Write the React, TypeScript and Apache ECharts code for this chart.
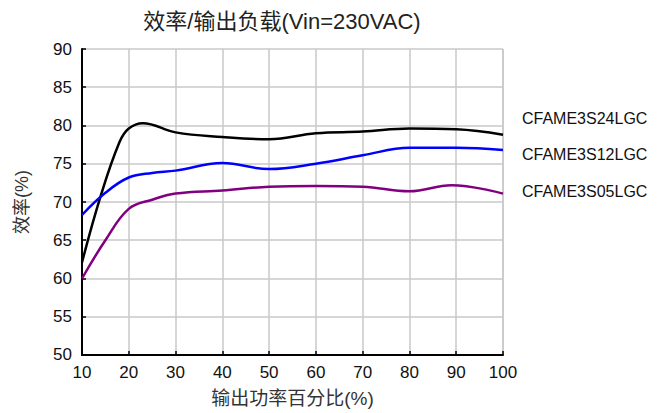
import React, { useEffect, useRef } from "react";
import * as echarts from "echarts";

const titleText = "效率/输出负载(Vin=230VAC)";
const xName = "输出功率百分比(%)";
const yName = "效率(%)";
const seriesNames = ["CFAME3S24LGC", "CFAME3S12LGC", "CFAME3S05LGC"];
const seriesColors = ["#000000", "#0000ff", "#800080"];

const s24: [number, number][] = [
  [10, 62.1], [14, 70.8], [18, 77.8], [20, 79.6], [23, 80.3], [30, 79.1],
  [40, 78.5], [50, 78.2], [60, 79.0], [70, 79.2], [80, 79.6], [90, 79.5], [100, 78.8],
];
const s12: [number, number][] = [
  [10, 68.3], [15, 71.2], [20, 73.2], [25, 73.8], [30, 74.1], [40, 75.1],
  [50, 74.3], [60, 75.0], [70, 76.1], [80, 77.1], [90, 77.1], [100, 76.8],
];
const s05: [number, number][] = [
  [10, 60.0], [15, 65.0], [20, 69.1], [25, 70.3], [30, 71.1], [40, 71.5],
  [50, 72.0], [60, 72.1], [70, 72.0], [80, 71.4], [89, 72.2], [100, 71.1],
];
const allData = [s24, s12, s05];

const font = "Arial, 'Liberation Sans', 'Noto Sans CJK SC', sans-serif";

export default function App() {
  const ref = useRef<HTMLDivElement>(null);
  useEffect(() => {
    if (!ref.current) return;
    const chart = echarts.init(ref.current, null, { renderer: "svg" });
    chart.setOption({
      animation: false,
      backgroundColor: "#ffffff",
      title: {
        text: titleText,
        left: 277,
        textAlign: "center",
        top: 5,
        textStyle: { fontSize: 22, fontWeight: "normal", color: "#222", fontFamily: font },
      },
      legend: {
        orient: "vertical",
        left: 512,
        top: 105,
        icon: "none",
        itemWidth: 0,
        itemHeight: 16,
        itemGap: 20.7,
        data: seriesNames,
        textStyle: { fontSize: 16, lineHeight: 16, color: "#111", fontFamily: font },
      },
      grid: { left: 82, right: 164, top: 49, bottom: 57, containLabel: false },
      xAxis: {
        type: "value",
        min: 10,
        max: 100,
        interval: 10,
        name: xName,
        nameLocation: "middle",
        nameGap: 34,
        nameTextStyle: { fontSize: 19, color: "#333", fontFamily: font },
        axisLine: { show: true, lineStyle: { color: "#000", width: 2 } },
        axisTick: { show: true, inside: true, length: 4, lineStyle: { color: "#000", width: 1.5 } },
        axisLabel: { fontSize: 17, color: "#111", margin: 9, fontFamily: font },
        splitLine: { show: true, lineStyle: { color: "#c8c8c8", width: 1.5 } },
      },
      yAxis: {
        type: "value",
        min: 50,
        max: 90,
        interval: 5,
        name: yName,
        nameLocation: "middle",
        nameGap: 51,
        nameRotate: 90,
        nameTextStyle: { fontSize: 18, color: "#333", fontFamily: font },
        axisLine: { show: true, lineStyle: { color: "#000", width: 2 } },
        axisTick: { show: true, inside: true, length: 4, lineStyle: { color: "#000", width: 1.5 } },
        axisLabel: { fontSize: 17, color: "#111", margin: 10, fontFamily: font },
        splitLine: { show: true, lineStyle: { color: "#c8c8c8", width: 1.5 } },
      },
      series: allData.map((d, i) => ({
        name: seriesNames[i],
        type: "line",
        data: d,
        smooth: 0.4,
        showSymbol: false,
        symbol: "none",
        color: seriesColors[i],
        lineStyle: { color: seriesColors[i], width: 2.5 },
      })),
      graphic: [
        {
          type: "line",
          shape: { x1: 503, y1: 49, x2: 503, y2: 356 },
          style: { stroke: "#c8c8c8", lineWidth: 1.5 },
          silent: true,
        },
      ],
    });
    return () => chart.dispose();
  }, []);
  return (
    <div
      ref={ref}
      style={{ position: "absolute", left: 0, top: 0, width: 667, height: 413 }}
    />
  );
}
